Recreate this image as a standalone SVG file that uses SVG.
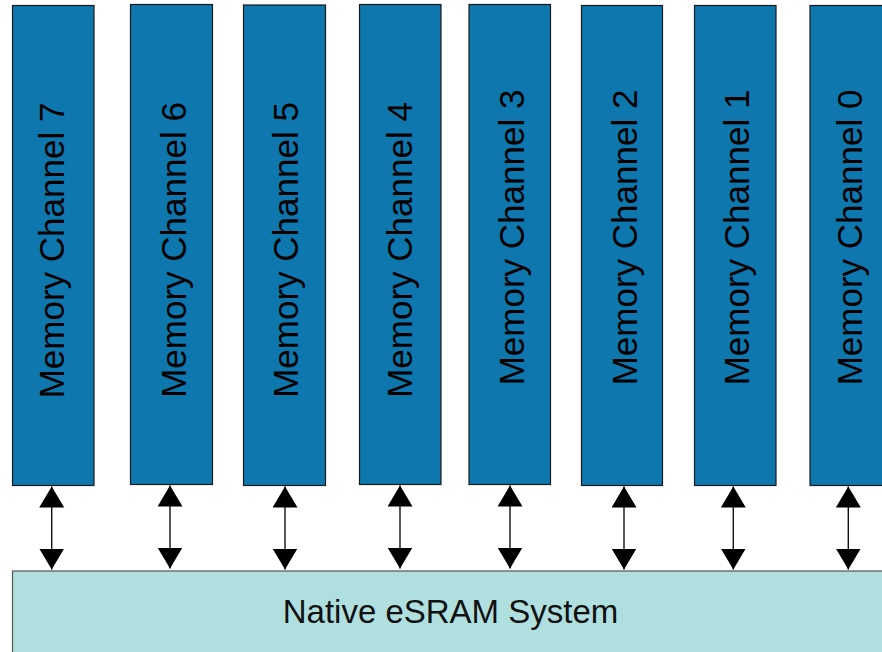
<svg xmlns="http://www.w3.org/2000/svg" width="882" height="652" viewBox="0 0 882 652">
<style>
.ch{fill:#0E77AE;stroke:#1a1a1a;stroke-width:1.2}
.sys{fill:#B0DFE0;stroke:#555;stroke-width:1.2}
.lbl{font-family:"Liberation Sans",Arial,sans-serif;font-size:35px;fill:#000;text-anchor:middle}
.sl{font-family:"Liberation Sans",Arial,sans-serif;font-size:33px;fill:#111;text-anchor:middle}
.conn line{stroke:#111;stroke-width:1.4;marker-start:url(#ah);marker-end:url(#ah)}
</style>
<defs>
<marker id="ah" markerUnits="userSpaceOnUse" markerWidth="22" markerHeight="26" refX="21" refY="12.5" orient="auto-start-reverse" viewBox="0 0 22 26">
<path d="M0,0 L21,12.5 L0,25 Z" fill="#000"/>
</marker>
</defs>
<g id="ch7"><rect class="ch" x="12.5" y="5.5" width="81.5" height="480"/><text class="lbl" transform="translate(63.5,250.5) rotate(-90)">Memory Channel 7</text></g>
<g id="ch6"><rect class="ch" x="130.5" y="4.5" width="82" height="480"/><text class="lbl" transform="translate(185.5,250) rotate(-90)">Memory Channel 6</text></g>
<g id="ch5"><rect class="ch" x="243.5" y="5" width="82" height="480.5"/><text class="lbl" transform="translate(298,250) rotate(-90)">Memory Channel 5</text></g>
<g id="ch4"><rect class="ch" x="359.5" y="4.5" width="81.5" height="480"/><text class="lbl" transform="translate(412,250) rotate(-90)">Memory Channel 4</text></g>
<g id="ch3"><rect class="ch" x="469" y="4.5" width="81.5" height="480"/><text class="lbl" transform="translate(524,237.5) rotate(-90)">Memory Channel 3</text></g>
<g id="ch2"><rect class="ch" x="581.5" y="5.5" width="81" height="480"/><text class="lbl" transform="translate(636.5,237.5) rotate(-90)">Memory Channel 2</text></g>
<g id="ch1"><rect class="ch" x="694.5" y="5.5" width="81.5" height="480"/><text class="lbl" transform="translate(749,237.5) rotate(-90)">Memory Channel 1</text></g>
<g id="ch0"><rect class="ch" x="810" y="5.5" width="82" height="480"/><text class="lbl" transform="translate(861.5,237.5) rotate(-90)">Memory Channel 0</text></g>
<g id="esram"><rect class="sys" x="12.5" y="571" width="880" height="90"/><text class="sl" x="450.5" y="622.7">Native eSRAM System</text></g>
<g id="connectors" class="conn">
<line x1="51.7" y1="486.5" x2="51.7" y2="569.5"/>
<line x1="170" y1="485.5" x2="170" y2="568.5"/>
<line x1="285" y1="486.5" x2="285" y2="569.5"/>
<line x1="400" y1="485.5" x2="400" y2="568.5"/>
<line x1="510" y1="485.5" x2="510" y2="568.5"/>
<line x1="624" y1="486.5" x2="624" y2="569.5"/>
<line x1="733.3" y1="486.5" x2="733.3" y2="569.5"/>
<line x1="848.3" y1="486.5" x2="848.3" y2="569.5"/>
</g>
</svg>
